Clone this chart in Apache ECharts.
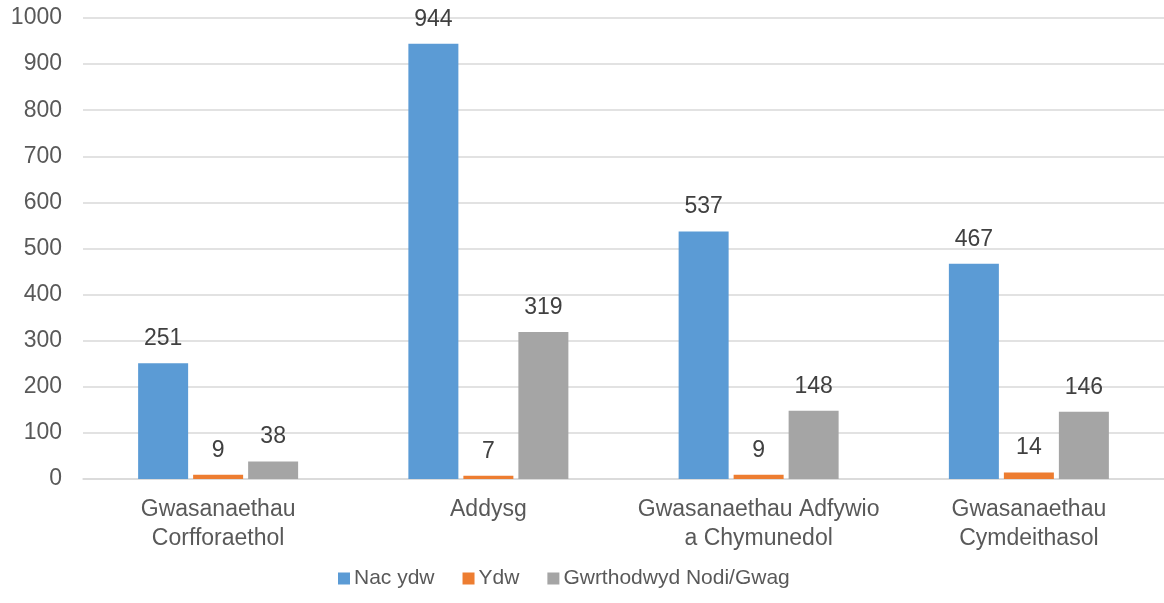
<!DOCTYPE html>
<html>
<head>
<meta charset="utf-8">
<script src="https://cdn.jsdelivr.net/npm/echarts@6/dist/echarts.min.js"></script>
<style>html,body{margin:0;padding:0;background:#fff}#c{width:1164px;height:603px}</style>
</head>
<body>
<div id="c"></div>
<script>
const categories = ['Gwasanaethau\nCorfforaethol', 'Addysg', 'Gwasanaethau Adfywio\na Chymunedol', 'Gwasanaethau\nCymdeithasol'];
const seriesNames = ['Nac ydw', 'Ydw', 'Gwrthodwyd Nodi/Gwag'];
const nacYdw = [251, 944, 537, 467];
const ydw = [9, 7, 9, 14];
const gwrthodwyd = [38, 319, 148, 146];
const colors = ['#5B9BD5', '#ED7D31', '#A5A5A5'];

const font = 'Liberation Sans, Arial, sans-serif';
const chart = echarts.init(document.getElementById('c'));
function mk(name, data, color) {
  return {
    name, type: 'bar', data, barWidth: 50, barGap: '10%',
    itemStyle: { color },
    label: { show: true, position: 'top', distance: 13, color: '#404040', fontSize: 23, fontFamily: font }
  };
}
chart.setOption({
  animation: false,
  color: colors,
  grid: { left: 83, right: 0, top: 18, bottom: 124, containLabel: false },
  legend: {
    bottom: 9, left: 333, itemWidth: 12, itemHeight: 12, itemGap: 28, icon: 'rect',
    textStyle: { color: '#595959', fontSize: 21, fontFamily: font, padding: [0, 0, 0, -1] },
    data: seriesNames
  },
  xAxis: {
    type: 'category', data: categories,
    axisLine: { lineStyle: { color: '#D9D9D9', width: 1.5 } },
    axisTick: { show: false },
    axisLabel: { color: '#595959', fontSize: 23, fontFamily: font, margin: 16, lineHeight: 29, interval: 0 }
  },
  yAxis: {
    type: 'value', min: 0, max: 1000, interval: 100,
    axisLine: { show: false }, axisTick: { show: false },
    splitLine: { lineStyle: { color: '#D9D9D9', width: 1.5 } },
    axisLabel: { color: '#595959', fontSize: 23, fontFamily: font, margin: 21, formatter: v => String(v) }
  },
  series: [mk(seriesNames[0], nacYdw, colors[0]), mk(seriesNames[1], ydw, colors[1]), mk(seriesNames[2], gwrthodwyd, colors[2])]
});
</script>
</body>
</html>
